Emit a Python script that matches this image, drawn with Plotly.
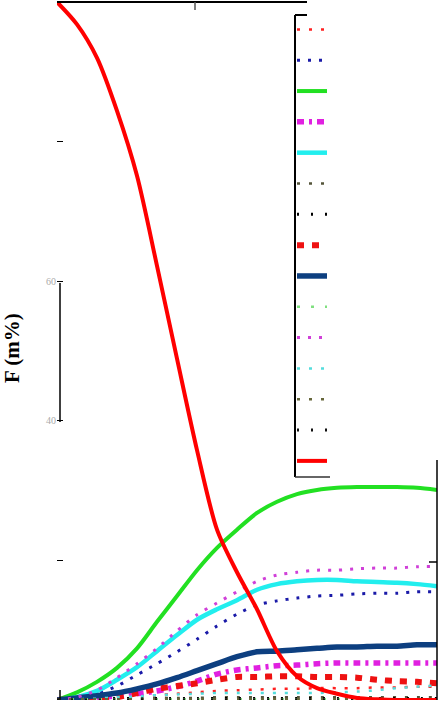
import plotly.graph_objects as go

# time axis (arbitrary units, the reference shows no x labels)
x = [0, 2, 4, 6, 8, 10, 12, 14, 16, 18, 20, 22, 24, 26, 28, 30, 32, 34, 36, 38]

# series values, F (m%)
red_solid = [100, 96.8, 92, 84.4, 75.1, 62.2, 48.9, 35.8, 24.4, 18.3, 13.0, 7.0, 3.4, 1.7, 0.9, 0.3, 0.1, 0, 0, 0]
green_solid = [0, 1.1, 2.6, 4.6, 7.4, 11.2, 14.9, 18.6, 21.8, 24.4, 26.8, 28.4, 29.5, 30.1, 30.4, 30.5, 30.5, 30.5, 30.4, 30.1]
magenta_dot = [0, 0.4, 1.4, 3.2, 5.2, 7.4, 9.9, 12.2, 13.9, 15.5, 17.0, 17.9, 18.3, 18.6, 18.6, 18.8, 18.9, 18.9, 19.1, 19.1]
cyan_solid = [0, 0.4, 1.3, 2.9, 4.7, 7.0, 9.3, 11.5, 13.0, 14.3, 15.8, 16.6, 17.0, 17.2, 17.2, 17.0, 16.9, 16.8, 16.6, 16.3]
blue_dot = [0, 0.3, 0.9, 2.0, 3.6, 5.2, 6.9, 8.7, 10.6, 12.3, 13.6, 14.2, 14.6, 14.9, 15.0, 15.2, 15.3, 15.3, 15.5, 15.5]
navy_solid = [0, 0.3, 0.6, 1.0, 1.6, 2.3, 3.2, 4.2, 5.2, 6.2, 6.9, 7.0, 7.2, 7.4, 7.6, 7.6, 7.7, 7.7, 7.9, 7.9]
magenta_dash = [0, 0.1, 0.3, 0.6, 0.9, 1.3, 1.9, 2.7, 3.7, 4.3, 4.6, 4.9, 5.0, 5.2, 5.3, 5.3, 5.3, 5.3, 5.3, 5.3]
red_dash = [0, 0.1, 0.1, 0.4, 1.0, 1.6, 2.0, 2.4, 2.9, 3.3, 3.3, 3.4, 3.4, 3.3, 3.3, 3.2, 2.9, 2.7, 2.6, 2.4]
red_dot = [0, 0.1, 0.2, 0.3, 0.5, 0.7, 0.9, 1.1, 1.3, 1.4, 1.5, 1.6, 1.6, 1.7, 1.7, 1.7, 1.8, 1.8, 1.9, 1.9]
cyan_dot = [0, 0.1, 0.2, 0.4, 0.5, 0.7, 0.8, 0.9, 1.0, 1.0, 1.0, 1.0, 1.0, 1.0, 1.1, 1.2, 1.4, 1.7, 1.9, 2.1]
olive_dot1 = [0, 0.1, 0.1, 0.2, 0.2, 0.3, 0.3, 0.3, 0.4, 0.4, 0.4, 0.4, 0.4, 0.4, 0.4, 0.4, 0.4, 0.4, 0.4, 0.4]
black_dot1 = [0.2] * 20
lgreen_dot = [0.1] * 20
olive_dot2 = [0.1] * 20
black_dot2 = [0.05] * 20

# legend order, top to bottom
series = [
    (red_dot, "#ff2020", 2.5, "3px,9px"),
    (blue_dot, "#1a1aa8", 3, "3px,8px"),
    (green_solid, "#22e022", 4, "solid"),
    (magenta_dash, "#e020e0", 5.5, "7px,5px,3px,5px"),
    (cyan_solid, "#22eeee", 4.5, "solid"),
    (olive_dot1, "#55553a", 2.5, "3px,9px"),
    (black_dot1, "#000000", 3, "2px,12px"),
    (red_dash, "#ee1111", 6, "7px,8px"),
    (navy_solid, "#0d3f80", 5.5, "solid"),
    (lgreen_dot, "#80e080", 2.5, "3px,11px"),
    (magenta_dot, "#d040d8", 3, "3px,8px"),
    (cyan_dot, "#55dddd", 2.5, "3px,9px"),
    (olive_dot2, "#66663a", 2.5, "3px,9px"),
    (black_dot2, "#111111", 3, "2px,12px"),
    (red_solid, "#ff0000", 4, "solid"),
]

fig = go.Figure()
for vals, col, w, dash in series:
    fig.add_trace(go.Scatter(x=x, y=vals, mode="lines", name="",
                             line=dict(color=col, width=w, dash=dash, shape="spline", smoothing=0.8)))

W, H = 439, 702
L, R, T, B = 57, 2, 2, 2
pw, ph = W - L - R, H - T - B


def px(v):
    return (v - L) / pw


def py(v):
    return (H - B - v) / ph


ln = dict(color="black", width=1.5)
shapes = [
    # top frame piece and its tick
    dict(type="line", xref="paper", yref="paper", x0=0, x1=px(307), y0=1, y1=1, line=dict(color="black", width=2)),
    dict(type="line", xref="paper", yref="paper", x0=px(195), x1=px(195), y0=1, y1=py(10), line=dict(color="#555", width=1.5)),
    # left axis fragment
    dict(type="line", xref="paper", yref="paper", x0=px(60), x1=px(60), y0=py(283), y1=py(422), line=ln),
    dict(type="line", xref="paper", yref="paper", x0=px(60), x1=px(60), y0=0, y1=py(690), line=ln),
    # right axis fragment with tick
    dict(type="line", xref="paper", yref="paper", x0=px(437), x1=px(437), y0=py(460), y1=0, line=ln),
    dict(type="line", xref="paper", yref="paper", x0=px(429), x1=px(437), y0=py(562), y1=py(562), line=ln),
    # legend frame pieces
    dict(type="line", xref="paper", yref="paper", x0=px(295), x1=px(295), y0=py(15), y1=py(477), line=dict(color="black", width=2)),
    dict(type="line", xref="paper", yref="paper", x0=px(295), x1=px(307), y0=py(15), y1=py(15), line=dict(color="black", width=2)),
    dict(type="line", xref="paper", yref="paper", x0=px(295), x1=px(330), y0=py(477), y1=py(477), line=dict(color="#333", width=1.5)),
]

fig.update_layout(
    width=W, height=H,
    margin=dict(l=L, r=R, t=T, b=B, autoexpand=False),
    paper_bgcolor="white", plot_bgcolor="white",
    showlegend=True,
    legend=dict(x=px(292), y=py(9), xanchor="left", yanchor="top",
                bgcolor="rgba(0,0,0,0)", borderwidth=0,
                font=dict(family="Liberation Serif", size=21.4, color="black"),
                traceorder="normal"),
    shapes=shapes,
    annotations=[dict(text="<b>F (m%)</b>", xref="paper", yref="paper",
                      x=px(12), y=py(348), xanchor="center", yanchor="middle",
                      textangle=-90, showarrow=False,
                      font=dict(family="Liberation Serif", size=21, color="black"))],
)
fig.update_xaxes(range=[0, 38], showgrid=False, zeroline=False, showline=False,
                 showticklabels=False, ticks="", automargin=False)
fig.update_yaxes(range=[0, 100], showgrid=False, zeroline=False, showline=False,
                 tickvals=[20, 40, 60, 80], ticktext=["", "40", "60", ""],
                 ticks="inside", ticklen=6, tickcolor="black", automargin=False,
                 tickfont=dict(family="Liberation Serif", size=10, color="#aaa"))

# the page body has a default 8px margin; drop it so the figure fills the window
fig.write_html("out.html", config={"displayModeBar": False},
               post_script="document.body.style.margin='0';")
